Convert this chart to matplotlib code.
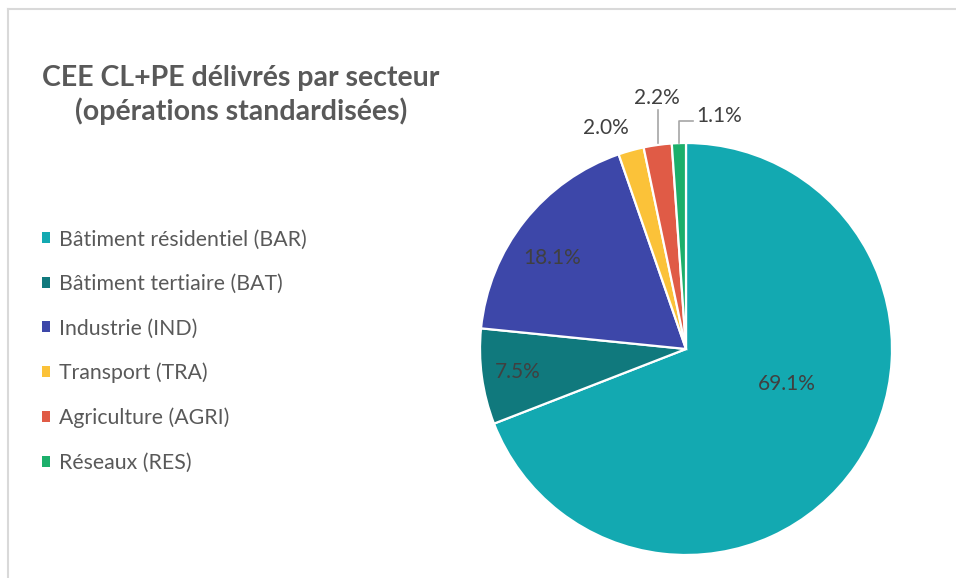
import numpy as np
import matplotlib
matplotlib.use("Agg")
import matplotlib.pyplot as plt
from matplotlib.lines import Line2D
from matplotlib.patches import Patch

plt.rcParams['font.family'] = ['Lato', 'DejaVu Sans']

# donnees
secteurs = ['Bâtiment résidentiel (BAR)', 'Bâtiment tertiaire (BAT)', 'Industrie (IND)',
            'Transport (TRA)', 'Agriculture (AGRI)', 'Réseaux (RES)']
parts = [69.1, 7.5, 18.1, 2.0, 2.2, 1.1]
couleurs = ['#13A9B1', '#10797D', '#3D47A9', '#FBC239', '#E05B46', '#1CAF6B']
titre = 'CEE CL+PE délivrés par secteur\n(opérations standardisées)'

W, H = 956, 578
fig = plt.figure(figsize=(W / 100, H / 100), dpi=100)

# cadre gris (coupe a droite et en bas)
fig.add_artist(Line2D([7.5 / W, 7.5 / W], [0, 1 - 9 / H], color='#D9D9D9', lw=1.5))
fig.add_artist(Line2D([7.5 / W, 1], [1 - 9 / H, 1 - 9 / H], color='#D9D9D9', lw=1.5))

# camembert: centre (686,349) rayon 206 px
r = 206
ax = fig.add_axes([(686 - r) / W, (H - 349 - r) / H, 2 * r / W, 2 * r / H])
wedges, _ = ax.pie(parts, colors=couleurs, startangle=90, counterclock=False,
                   wedgeprops=dict(edgecolor='white', linewidth=1.6))
ax.set_xlim(-1, 1)
ax.set_ylim(-1, 1)
ax.set_aspect('equal')
ax.axis('off')

fs = 15
# etiquettes interieures (x, y en rayons)
pos_in = {0: (0.49, -0.17), 1: (-0.815, -0.11), 2: (-0.65, 0.44)}
for i, (x, y) in pos_in.items():
    ax.text(x, y, '%.1f%%' % parts[i], ha='center', va='center', fontsize=fs, color='#404040')

# etiquettes exterieures
ax.text(-0.39, 1.073, '%.1f%%' % parts[3], ha='center', va='center', fontsize=fs, color='#404040')
ax.text(-0.14, 1.218, '%.1f%%' % parts[4], ha='center', va='center', fontsize=fs, color='#404040')
ax.text(0.05, 1.13, '%.1f%%' % parts[5], ha='left', va='center', fontsize=fs, color='#404040')

def mid_angle(w):
    return np.deg2rad((w.theta1 + w.theta2) / 2)

a = mid_angle(wedges[4])
ax.plot([np.cos(a), np.cos(a)], [1.0, 1.16], color='#A6A6A6', lw=1.2, clip_on=False)
a = mid_angle(wedges[5])
ax.plot([np.cos(a), np.cos(a), 0.035], [1.0, 1.107, 1.107], color='#A6A6A6', lw=1.2, clip_on=False)

# titre
fig.text(241 / W, 1 - 95 / H, titre, ha='center', va='center', fontsize=20.5,
         fontweight='bold', color='#595959', linespacing=1.32)

# legende
handles = [Patch(facecolor=c, edgecolor='none') for c in couleurs]
fig.legend(handles, secteurs, loc='upper left', bbox_to_anchor=(33 / W, 1 - 221 / H),
           frameon=False, fontsize=15.3, labelcolor='#595959', handlelength=0.42,
           handleheight=0.42, handletextpad=0.4, labelspacing=1.15, borderaxespad=0)

fig.savefig('out.png', dpi=100)
